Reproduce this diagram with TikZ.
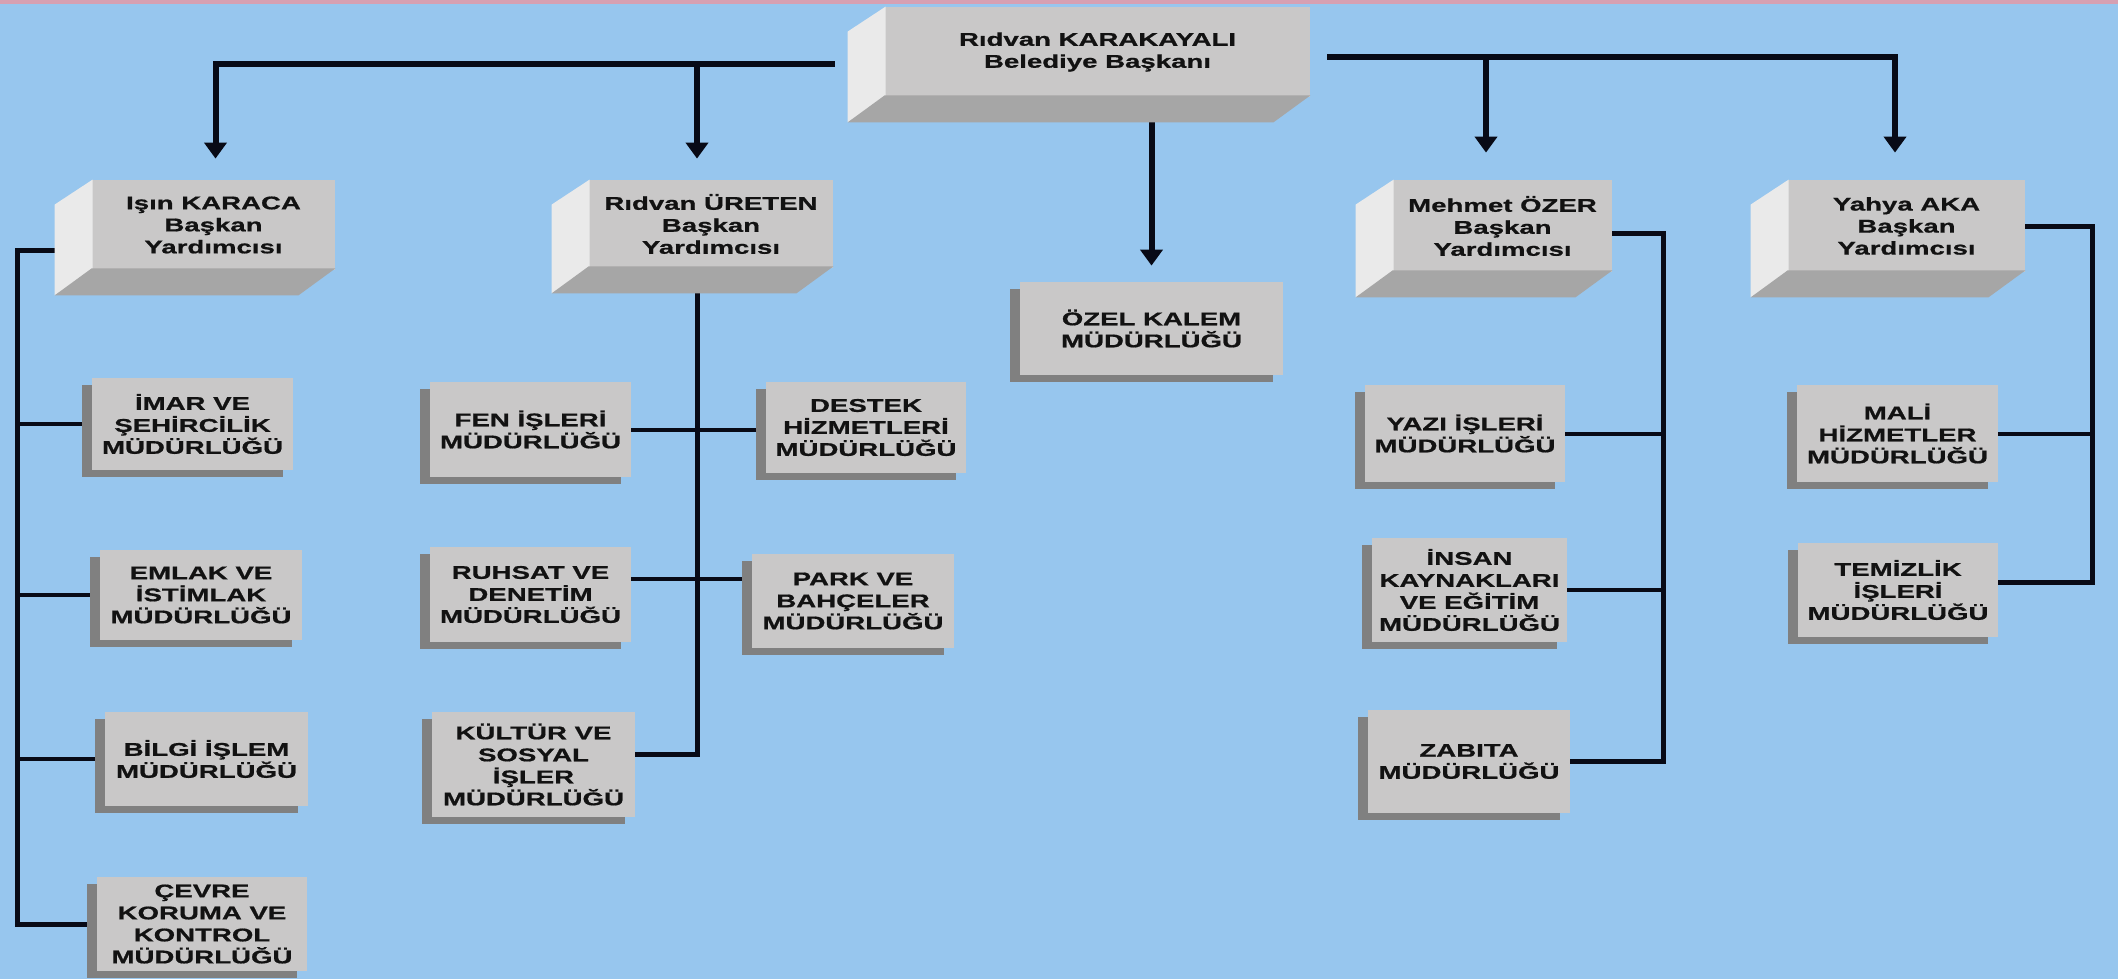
\documentclass[tikz,border=0pt]{standalone}
\usepackage{fontspec}
\usepackage{tikz}
\usetikzlibrary{arrows.meta,calc,shadows,backgrounds}
\newfontfamily\orgfont{Liberation Sans}[FakeStretch=1.5,BoldFeatures={FakeBold=0.8}]
\definecolor{skyback}{RGB}{151,198,238}
\definecolor{pinkline}{RGB}{214,160,178}
\definecolor{frontgray}{RGB}{201,200,200}
\definecolor{sidegray}{RGB}{234,234,234}
\definecolor{bottomgray}{RGB}{166,166,166}
\definecolor{shadowgray}{RGB}{128,128,128}
\definecolor{linecol}{RGB}{8,10,22}
\definecolor{textblack}{RGB}{18,18,18}

\begin{document}
\begin{tikzpicture}[x=0.5pt,y=-0.5pt,
    yonetici/.style={rectangle, fill=frontgray, inner sep=1pt, align=center, text=textblack,
        font=\orgfont\bfseries\fontsize{9.2}{11}\selectfont},
    mudurluk/.style={yonetici, drop shadow={shadow xshift=-5pt, shadow yshift=-3.5pt, shadow scale=1, opacity=1, fill=shadowgray}},
    bus/.style={draw=linecol, line width=3pt},
    ok/.style={bus, -{Triangle[width=11pt,length=8pt]}},
    trunk/.style={draw=linecol, line width=2.5pt},
    branch/.style={draw=linecol, line width=2pt}]
    \useasboundingbox (0,0) rectangle (2118,979);

    % Shape: Box (3D)
    \node[yonetici, minimum width=212.5pt, minimum height=45pt] (baskan) at (1097.5,52) {Rıdvan KARAKAYALI\\Belediye Başkanı};
    \node[yonetici, minimum width=121.5pt, minimum height=45pt] (isin) at (213.5,225) {Işın KARACA\\Başkan\\Yardımcısı};
    \node[yonetici, minimum width=122pt, minimum height=44pt] (ureten) at (711,224) {Rıdvan ÜRETEN\\Başkan\\Yardımcısı};
    \node[yonetici, minimum width=109.5pt, minimum height=46pt] (ozer) at (1502.5,226) {Mehmet ÖZER\\Başkan\\Yardımcısı};
    \node[yonetici, minimum width=118.5pt, minimum height=46pt] (aka) at (1906.5,226) {Yahya AKA\\Başkan\\Yardımcısı};
    \foreach \n in {baskan,isin,ureten,ozer,aka}{
        \fill[sidegray] ([xshift=0.5pt]\n.north west) -- ([xshift=0.5pt]\n.south west) -- ++(-38,25) -- ($(\n.north west)+(-37,25)$) -- cycle;
        \fill[bottomgray] ([yshift=1pt]\n.south west) -- ([yshift=1pt]\n.south east) -- ($(\n.south east)+(-37,25)$) -- ($(\n.south west)+(-37,25)$) -- cycle;
    }

    % Text Node
    \node[mudurluk, minimum width=100.5pt, minimum height=46pt] (imar) at (192.5,424) {İMAR VE\\ŞEHİRCİLİK\\MÜDÜRLÜĞÜ};
    \node[mudurluk, minimum width=101pt, minimum height=45pt] (emlak) at (201,595) {EMLAK VE\\İSTİMLAK\\MÜDÜRLÜĞÜ};
    \node[mudurluk, minimum width=101.5pt, minimum height=47pt] (bilgi) at (206.5,759) {BİLGİ İŞLEM\\MÜDÜRLÜĞÜ};
    \node[mudurluk, minimum width=105pt, minimum height=47pt] (cevre) at (202,924) {ÇEVRE\\KORUMA VE\\KONTROL\\MÜDÜRLÜĞÜ};
    % Text Node
    \node[mudurluk, minimum width=100.5pt, minimum height=47.5pt] (fen) at (530.5,429.5) {FEN İŞLERİ\\MÜDÜRLÜĞÜ};
    \node[mudurluk, minimum width=100.5pt, minimum height=47.5pt] (ruhsat) at (530.5,594.5) {RUHSAT VE\\DENETİM\\MÜDÜRLÜĞÜ};
    \node[mudurluk, minimum width=101.5pt, minimum height=52.5pt] (kultur) at (533.5,764.5) {KÜLTÜR VE\\SOSYAL\\İŞLER\\MÜDÜRLÜĞÜ};
    \node[mudurluk, minimum width=100pt, minimum height=45.5pt] (destek) at (866,427.5) {DESTEK\\HİZMETLERİ\\MÜDÜRLÜĞÜ};
    \node[mudurluk, minimum width=101pt, minimum height=47pt] (park) at (853,601) {PARK VE\\BAHÇELER\\MÜDÜRLÜĞÜ};
    % Text Node
    \node[mudurluk, minimum width=131.5pt, minimum height=46.5pt] (ozel) at (1151.5,328.5) {ÖZEL KALEM\\MÜDÜRLÜĞÜ};
    % Text Node
    \node[mudurluk, minimum width=100pt, minimum height=48.5pt] (yazi) at (1465,433.5) {YAZI İŞLERİ\\MÜDÜRLÜĞÜ};
    \node[mudurluk, minimum width=97.5pt, minimum height=52pt] (insan) at (1469.5,590) {İNSAN\\KAYNAKLARI\\VE EĞİTİM\\MÜDÜRLÜĞÜ};
    \node[mudurluk, minimum width=101pt, minimum height=51.5pt] (zabita) at (1469,761.5) {ZABITA\\MÜDÜRLÜĞÜ};
    % Text Node
    \node[mudurluk, minimum width=100.5pt, minimum height=48.5pt] (mali) at (1897.5,433.5) {MALİ\\HİZMETLER\\MÜDÜRLÜĞÜ};
    \node[mudurluk, minimum width=100pt, minimum height=47pt] (temizlik) at (1898,590) {TEMİZLİK\\İŞLERİ\\MÜDÜRLÜĞÜ};

    \begin{scope}[on background layer]
    \fill[skyback] (0,0) rectangle (2118,979);
    \fill[pinkline] (0,0) rectangle (2118,4);

    %Straight Lines: top bus
    \coordinate (busL) at ([shift={(-50,12)}]baskan.west);
    \coordinate (tipI) at ([shift={(2,-21)}]isin.north);
    \coordinate (tipU) at ([shift={(-14,-21)}]ureten.north);
    \draw[ok] (busL) -| (tipI);
    \draw[ok] (busL -| tipU) -- (tipU);
    \coordinate (busR) at ([shift={(17,5)}]baskan.east);
    \coordinate (tipA) at ([shift={(-11.5,-27)}]aka.north);
    \coordinate (tipO) at ([shift={(-16.5,-27)}]ozer.north);
    \draw[ok] (busR) -| (tipA);
    \draw[ok] (busR -| tipO) -- (tipO);
    \draw[ok] ($(ozel.north |- baskan.south)+(0,22)$) -- ([yshift=8pt]ozel.north);

    %Straight Lines: Işın KARACA
    \coordinate (trI) at (17,0);
    \draw[trunk] ([yshift=-12.5pt]isin.west) -| (trI |- cevre.west) -- (cevre.west);
    \foreach \m in {imar,emlak,bilgi}
        \draw[branch] (trI |- \m.west) -- (\m.west);

    %Straight Lines: Rıdvan ÜRETEN
    \draw[trunk] ($(tipU |- ureten.south)+(0,22)$) |- ([yshift=5pt]kultur.east);
    \draw[branch] (fen.east) -- (fen.east -| destek.west);
    \coordinate (rp) at ([yshift=8pt]ruhsat.east);
    \draw[branch] (rp) -- (rp -| park.west);

    %Straight Lines: Mehmet ÖZER
    \coordinate (trO) at (1663,0);
    \draw[trunk] ([yshift=-3.5pt]ozer.east) -| (trO |- zabita.east) -- (zabita.east);
    \foreach \m in {yazi,insan}
        \draw[branch] (\m.east) -- (trO |- \m.east);

    %Straight Lines: Yahya AKA
    \coordinate (trA) at (2092,0);
    \coordinate (tz) at ([yshift=4pt]temizlik.east);
    \draw[trunk] (aka.east) -| (trA |- tz) -- (tz);
    \draw[branch] (mali.east) -- (trA |- mali.east);
    \end{scope}
\end{tikzpicture}
\end{document}
